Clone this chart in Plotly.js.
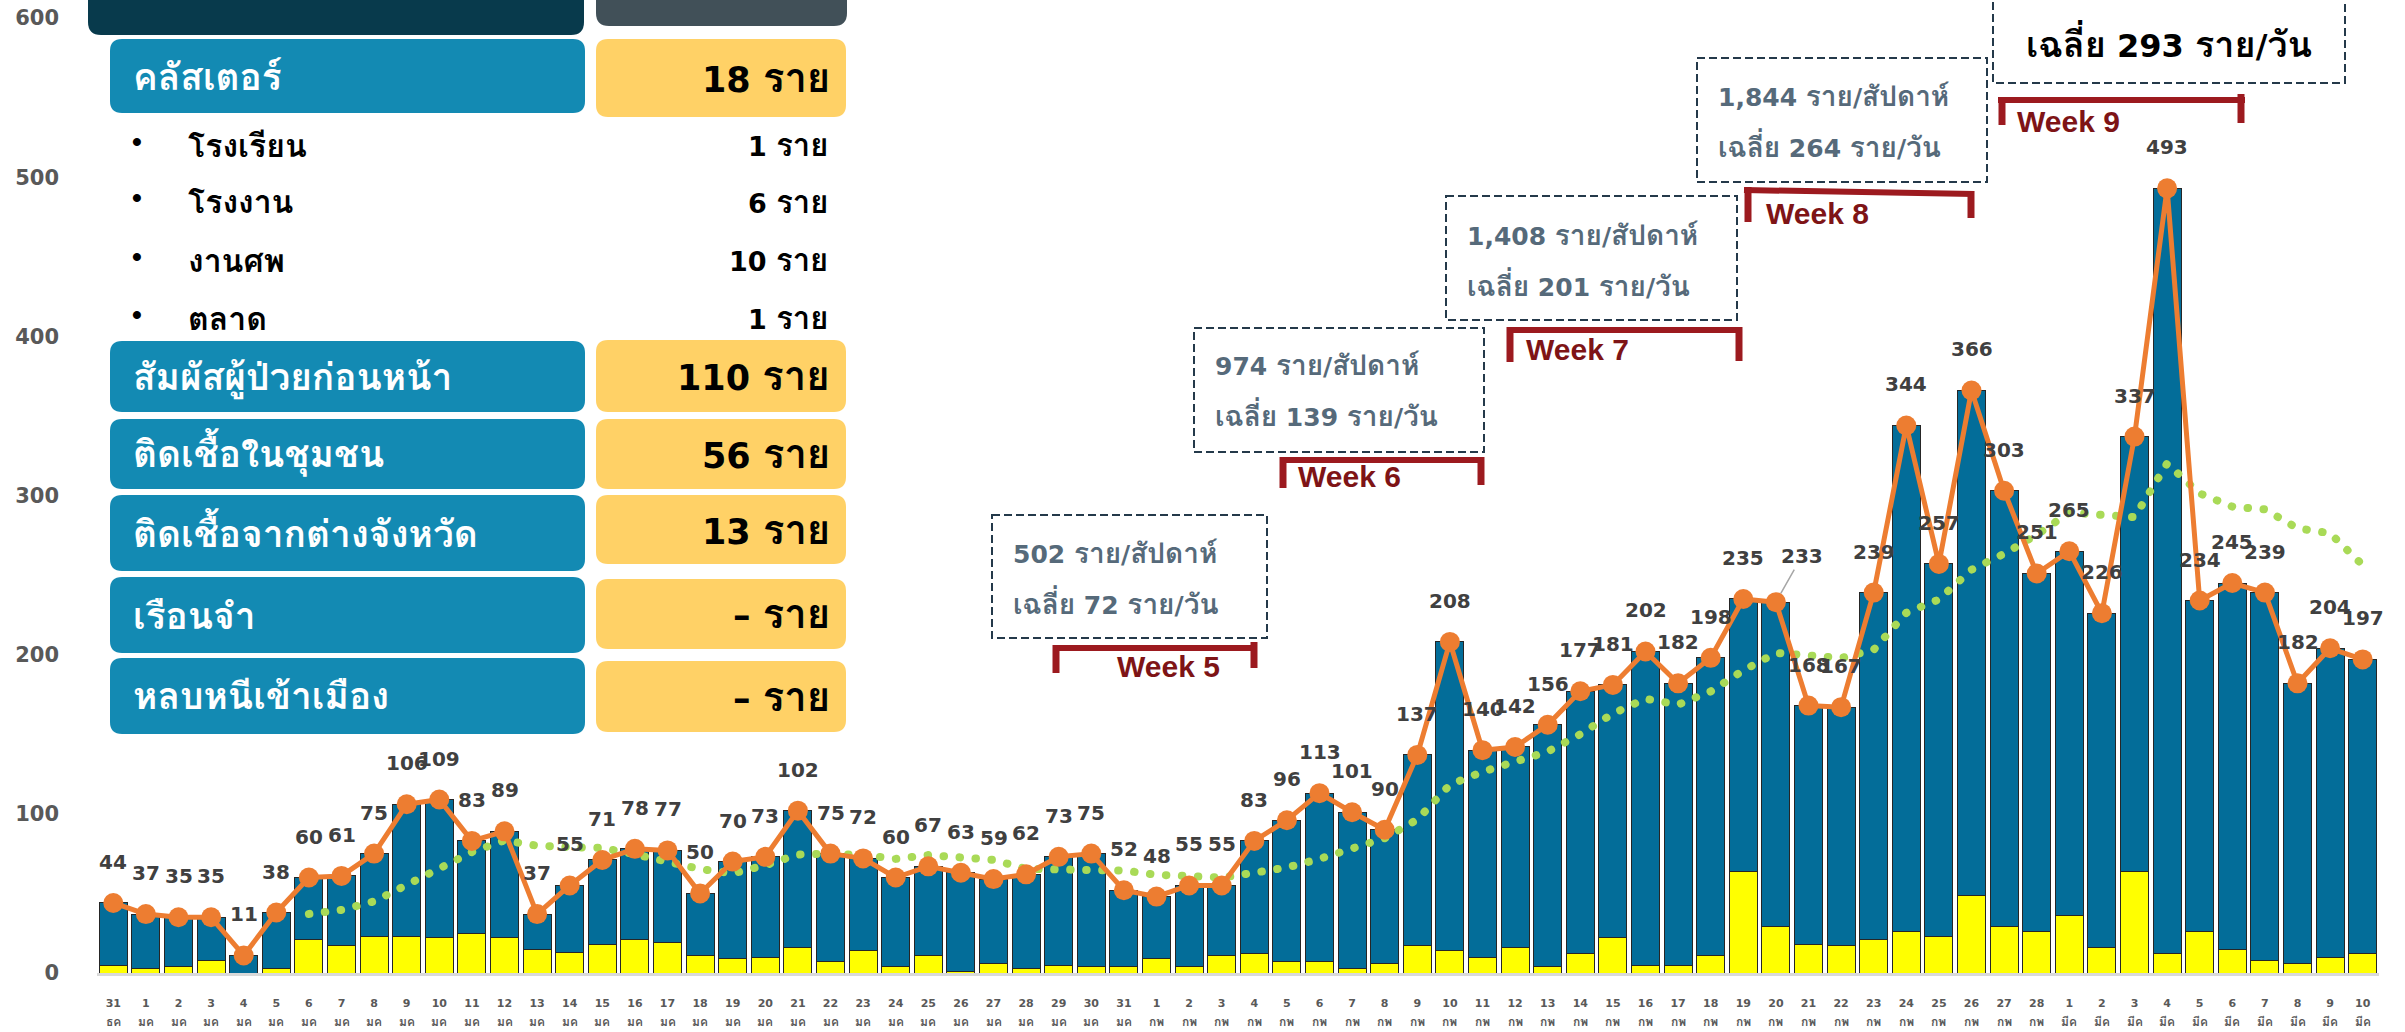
<!DOCTYPE html>
<html><head><meta charset="utf-8">
<script src="https://cdn.plot.ly/plotly-3.0.1.min.js"></script>
<style>
html,body{margin:0;padding:0;background:#fff;}
#chart{width:2405px;height:1032px;}
.js-line{stroke-linecap:round;stroke-linejoin:round;}
</style></head><body><div id="chart"></div>
<script>
// ---------------- data ----------------
const days = ['31',
 '1','2','3','4','5','6','7','8','9','10','11','12','13','14','15','16','17','18','19','20','21','22','23','24','25','26','27','28','29','30','31',
 '1','2','3','4','5','6','7','8','9','10','11','12','13','14','15','16','17','18','19','20','21','22','23','24','25','26','27','28',
 '1','2','3','4','5','6','7','8','9','10'];
const months = ['ธค',
 'มค','มค','มค','มค','มค','มค','มค','มค','มค','มค','มค','มค','มค','มค','มค','มค','มค','มค','มค','มค','มค','มค','มค','มค','มค','มค','มค','มค','มค','มค','มค',
 'กพ','กพ','กพ','กพ','กพ','กพ','กพ','กพ','กพ','กพ','กพ','กพ','กพ','กพ','กพ','กพ','กพ','กพ','กพ','กพ','กพ','กพ','กพ','กพ','กพ','กพ','กพ','กพ',
 'มีค','มีค','มีค','มีค','มีค','มีค','มีค','มีค','มีค','มีค'];
const totalCases = [44,
 37,35,35,11,38,60,61,75,106,109,83,89,37,55,71,78,77,50,70,73,102,75,72,60,67,63,59,62,73,75,52,
 48,55,55,83,96,113,101,90,137,208,140,142,156,177,181,202,182,198,235,233,168,167,239,344,257,366,303,251,
 265,226,337,493,234,245,239,182,204,197];
const yellowCases = [5,
 3,4,8,0,3,21,17,23,23,22,25,22,15,13,18,21,19,11,9,10,16,7,14,4,11,1,6,3,5,4,4,
 9,4,11,12,7,7,3,6,17,14,10,16,4,12,22,5,5,11,64,29,18,17,21,26,23,49,29,26,
 36,16,64,12,26,15,8,6,10,12];
const movingAvg7 = [null,null,null,null,null,null,
 37.1,39.6,45.0,55.1,65.7,76.0,83.3,80.0,79.1,78.6,
 74.6,70.0,65.3,62.6,67.7,74.4,75.0,74.1,71.7,74.1,
 73.1,71.1,65.4,65.1,65.6,64.4,61.7,60.6,60.0,63.0,
 66.3,71.7,78.7,84.7,96.4,118.3,126.4,133.0,139.1,150.0,
 163.0,172.3,168.6,176.9,190.1,201.1,199.9,197.9,203.1,226.3,
 234.7,253.4,263.4,275.3,289.3,287.4,286.4,320.1,301.3,293.0,
 291.3,279.4,276.3,256.3];
const yTicks = [0,100,200,300,400,500,600];

const tableLabels = ['คลัสเตอร์','สัมผัสผู้ป่วยก่อนหน้า','ติดเชื้อในชุมชน','ติดเชื้อจากต่างจังหวัด','เรือนจำ','หลบหนีเข้าเมือง'];
const tableValues = ['18 ราย','110 ราย','56 ราย','13 ราย','– ราย','– ราย'];
const clusterItems = ['โรงเรียน','โรงงาน','งานศพ','ตลาด'];
const clusterValues = ['1 ราย','6 ราย','10 ราย','1 ราย'];

const weekNames = ['Week 5','Week 6','Week 7','Week 8','Week 9'];
const weekLine1 = ['502 ราย/สัปดาห์','974 ราย/สัปดาห์','1,408 ราย/สัปดาห์','1,844 ราย/สัปดาห์',''];
const weekLine2 = ['เฉลี่ย 72 ราย/วัน','เฉลี่ย 139 ราย/วัน','เฉลี่ย 201 ราย/วัน','เฉลี่ย 264 ราย/วัน','เฉลี่ย 293 ราย/วัน'];

// ---------------- layout helpers ----------------
const PL=97, PT=18, PW=2282, PH=955;
const X = px => (px-PL)/PW;
const Y = py => (PT+PH-py)/PH;
const NUM = 'DejaVu Sans, sans-serif';
const THAI = 'Loma, Garuda, Noto Sans Thai, Tahoma, sans-serif';
const MIX = 'DejaVu Sans, Loma, Garuda, Noto Sans Thai, sans-serif';
const LAT = 'Liberation Sans, Arial, sans-serif';

const xIdx = days.map((d,i)=>i);
const blueCases = totalCases.map((t,i)=>t-yellowCases[i]);

// enlarge the Thai runs of a mixed digit/Thai string so both look the same height
function mixed(s,size){
  const big=Math.round(size*1.14);
  return s.replace(/([\u0E00-\u0E7F]+)/g,'<span style="font-size:'+big+'px">$1</span>');
}
function rrect(x0,y0,x1,y1,r,fill){
  const p=(x,y)=>X(x).toFixed(5)+','+Y(y).toFixed(5);
  const d='M'+p(x0+r,y0)+' L'+p(x1-r,y0)+' Q'+p(x1,y0)+' '+p(x1,y0+r)+
    ' L'+p(x1,y1-r)+' Q'+p(x1,y1)+' '+p(x1-r,y1)+
    ' L'+p(x0+r,y1)+' Q'+p(x0,y1)+' '+p(x0,y1-r)+
    ' L'+p(x0,y0+r)+' Q'+p(x0,y0)+' '+p(x0+r,y0)+' Z';
  return {type:'path',xref:'paper',yref:'paper',path:d,fillcolor:fill,line:{width:0},layer:'above'};
}
function txt(px,py,text,anchor,size,color,family){
  return {xref:'paper',yref:'paper',x:X(px),y:Y(py),text:text,showarrow:false,
    xanchor:anchor,yanchor:'middle',font:{family:family||THAI,size:size,color:color,weight:'bold'}};
}
function seg(x0,y0,x1,y1,color,w){
  return {type:'line',xref:'paper',yref:'paper',x0:X(x0),y0:Y(y0),x1:X(x1),y1:Y(y1),line:{color:color,width:w},layer:'above'};
}
function drect(x0,y0,x1,y1){
  return {type:'rect',xref:'paper',yref:'paper',x0:X(x0),y0:Y(y0),x1:X(x1),y1:Y(y1),
    line:{color:'#24394A',width:2,dash:'8px,4px'},fillcolor:'rgba(0,0,0,0)',layer:'above'};
}

// ---------------- traces ----------------
const traces = [
  {type:'bar',x:xIdx,y:yellowCases,name:'yellow',marker:{color:'#FFFF00',line:{color:'#262626',width:1}},hoverinfo:'skip'},
  {type:'bar',x:xIdx,y:blueCases,name:'blue',marker:{color:'#036D99',line:{color:'#262626',width:1}},hoverinfo:'skip'},
  {type:'scatter',mode:'lines',x:xIdx,y:movingAvg7,name:'7-day avg',line:{color:'#A9DA57',width:8,dash:'0.5px,15.5px'},hoverinfo:'skip'},
  {type:'scatter',mode:'lines+markers',x:xIdx,y:totalCases,name:'total',line:{color:'#ED7D31',width:5},marker:{color:'#ED7D31',size:20},hoverinfo:'skip'}
];

// ---------------- annotations ----------------
const ann = [];
totalCases.forEach((v,i)=>{
  if(i===51){
    ann.push({x:i,y:v,xref:'x',yref:'y',text:String(v),showarrow:true,ax:26,ay:-46,arrowhead:0,
      arrowwidth:1.5,arrowcolor:'#A6A6A6',standoff:10,font:{family:NUM,size:20,color:'#404040',weight:'bold'}});
  } else {
    ann.push({x:i,y:v,xref:'x',yref:'y',text:String(v),showarrow:false,yshift:41,
      font:{family:NUM,size:20,color:'#404040',weight:'bold'}});
  }
});
months.forEach((m,i)=>{
  ann.push({x:i,y:Y(1021),xref:'x',yref:'paper',text:m,showarrow:false,yanchor:'middle',
    font:{family:THAI,size:12,color:'#595959',weight:'bold'}});
});

// table
const shapes = [];
shapes.push(rrect(88,-40,584,35,13,'#083A4C'));
shapes.push(rrect(596,-40,847,26,13,'#415058'));
const rowBox = [[39,113,39,117],[341,412,340,412],[419,489,419,489],[495,571,495,564],[577,653,579,649],[658,734,661,732]];
rowBox.forEach((b,i)=>{
  shapes.push(rrect(110,b[0],585,b[1],12,'#138AB3'));
  shapes.push(rrect(596,b[2],846,b[3],12,'#FFD166'));
  const cy=(b[0]+b[1])/2;
  ann.push(txt(131,cy,tableLabels[i],'left',37,'#FFFFFF'));
  ann.push(txt(832,(b[2]+b[3])/2,mixed(tableValues[i],35),'right',35,'#000000',MIX));
});
const subY=[145,202,260,318];
clusterItems.forEach((s,i)=>{
  ann.push(txt(137,subY[i]-4,'•','center',28,'#000000',LAT));
  ann.push(txt(186,subY[i],s,'left',32,'#000000'));
  ann.push(txt(830,subY[i],mixed(clusterValues[i],27),'right',27,'#000000',MIX));
});

// week boxes and brackets
const wBox = [[992,515,1267,638],[1194,328,1484,452],[1446,196,1737,320],[1697,58,1987,182],[1993,-40,2345,83]];
const wBar = [[1053,648,1257,648],[1280,460,1484,460],[1507,330,1742,330],[1744,190,1974,194],[1998,100,2245,100]];
const wLegL = [[1056,645,673],[1283,457,488],[1510,327,362],[1748,187,222],[2002,97,125]];
const wLegR = [[1254,642,668],[1481,457,485],[1739,327,361],[1971,191,218],[2241,94,123]];
const wText = [[1168,666],[1349,476],[1577,350],[1817,213],[2068,121]];
const wLines = [[553,603],[365,415],[235,285],[96,146],[null,43]];
const BR='#9C1A1F';
weekNames.forEach((w,i)=>{
  const b=wBox[i];
  shapes.push(drect(b[0],b[1],b[2],b[3]));
  const br=wBar[i];
  shapes.push(seg(br[0],br[1],br[2],br[3],BR,6));
  shapes.push(seg(wLegL[i][0],wLegL[i][1],wLegL[i][0],wLegL[i][2],BR,7));
  shapes.push(seg(wLegR[i][0],wLegR[i][1],wLegR[i][0],wLegR[i][2],BR,7));
  ann.push(txt(wText[i][0],wText[i][1],w,'center',30,'#7E1416',LAT));
  if(i<4){
    ann.push(txt(b[0]+19,wLines[i][0],mixed(weekLine1[i],25),'left',25,'#566A7A',MIX));
    ann.push(txt(b[0]+19,wLines[i][1],mixed(weekLine2[i],25),'left',25,'#566A7A',MIX));
  } else {
    ann.push(txt((b[0]+b[2])/2,wLines[i][1],mixed(weekLine2[i],32),'center',32,'#000000',MIX));
  }
});

const layout = {
  width:2405,height:1032,
  margin:{l:PL,r:2405-PL-PW,t:PT,b:1032-PT-PH,pad:0},
  paper_bgcolor:'#FFFFFF',plot_bgcolor:'#FFFFFF',
  showlegend:false,barmode:'stack',bargap:0.14,
  xaxis:{range:[-0.5,69.5],tickmode:'array',tickvals:xIdx,ticktext:days,
    tickfont:{family:NUM,size:11,color:'#595959',weight:'bold'},
    showgrid:false,zeroline:false,showline:true,linecolor:'#D9D9D9',linewidth:2.5,
    ticks:'',ticklabelstandoff:18,fixedrange:true},
  yaxis:{range:[0,600],tickmode:'array',tickvals:yTicks,
    tickfont:{family:NUM,size:21,color:'#595959',weight:'bold'},
    showgrid:false,zeroline:false,showline:false,ticks:'',ticklabelstandoff:37,fixedrange:true},
  shapes:shapes,
  annotations:ann
};
Plotly.newPlot('chart',traces,layout,{displayModeBar:false,staticPlot:true});
</script></body></html>
